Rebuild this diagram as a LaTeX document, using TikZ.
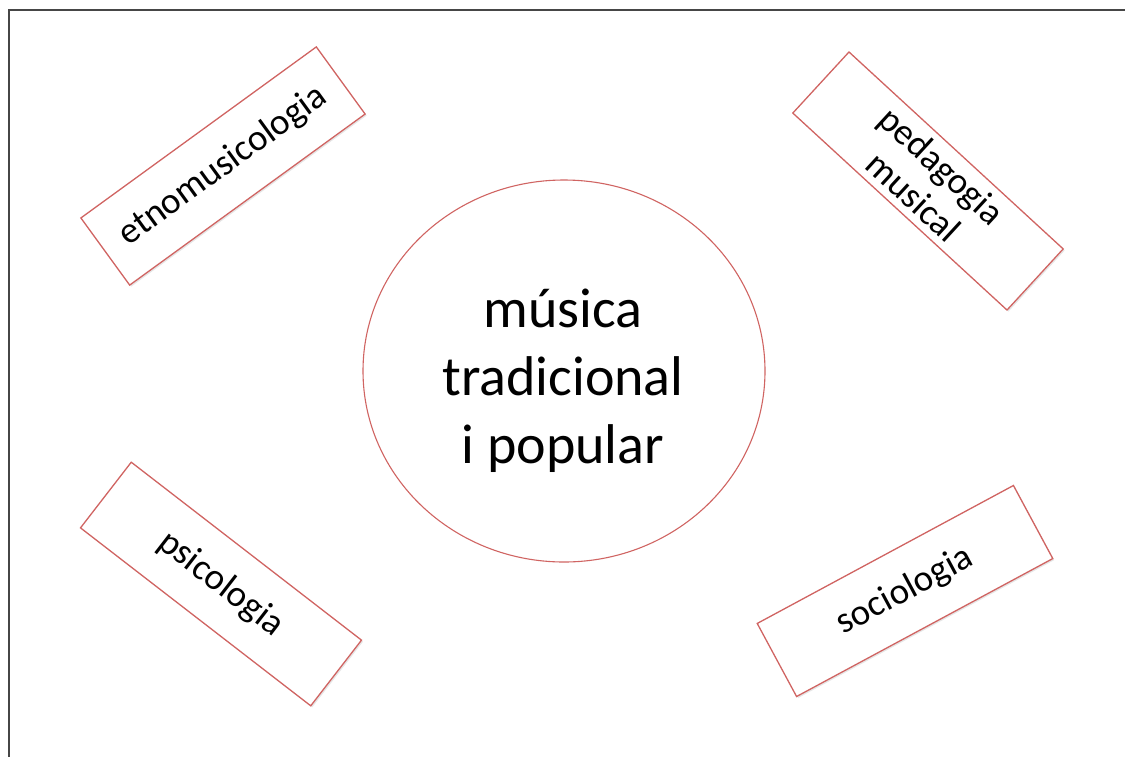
\documentclass[tikz,border=0pt]{standalone}
\usepackage{fontspec}
\setmainfont{Carlito}
\usetikzlibrary{shapes.geometric,shadows}
\definecolor{edgered}{RGB}{208,100,98}
\definecolor{framegray}{RGB}{70,70,70}
\tikzset{
  topic/.style={draw=edgered, line width=1.3pt, fill=white, rectangle,
    minimum width=291pt, minimum height=83pt, inner sep=0pt, align=center,
    font=\fontsize{37}{42}\selectfont,
    drop shadow={opacity=0.2, shadow xshift=1.5pt, shadow yshift=-1.5pt}},
  core/.style={draw=edgered, line width=1.1pt, fill=white, ellipse,
    minimum width=402pt, minimum height=382pt, inner sep=0pt},
  corelabel/.style={align=center, inner sep=0pt,
    font=\fontsize{56}{68}\selectfont}
}
\begin{document}
\begin{tikzpicture}[x=1pt,y=-1pt]
  \useasboundingbox (0,0) rectangle (1125,756);
  % page frame, only its top and left edges fall inside the view
  \draw[framegray, line width=2.2pt] (9,770) -- (9,10) -- (1140,10);

  % central theme
  \node[core] (centre) at (564,371) {};
  \node[corelabel] (centretext) at (563,381) {música\\tradicional\\i popular};

  % surrounding disciplines
  \node[topic, rotate=36]    (etno) at (223,166) {etnomusicologia};
  \node[topic, rotate=-42.6] (peda) at (928,181) {pedagogia\\musical};
  \node[topic, rotate=-37.7] (psic) at (221,584) {psicologia};
  \node[topic, rotate=28.3]  (soci) at (905,591) {sociologia};
\end{tikzpicture}
\end{document}
